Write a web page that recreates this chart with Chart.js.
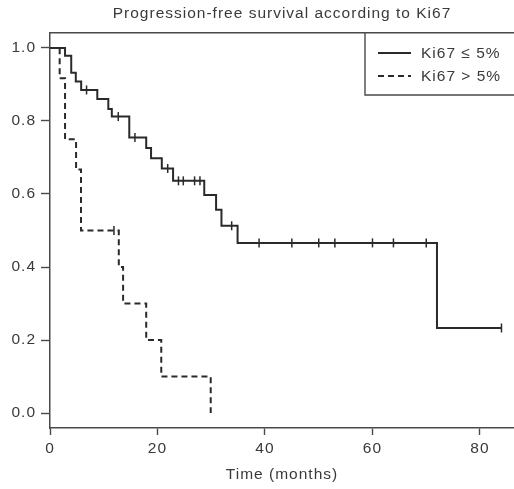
<!DOCTYPE html>
<html>
<head>
<meta charset="utf-8">
<script src="https://cdn.jsdelivr.net/npm/chart.js@4/dist/chart.umd.min.js"></script>
<style>
  html, body { margin: 0; padding: 0; background: #ffffff; overflow: hidden; }
  canvas { display: block; }
</style>
</head>
<body>
<canvas id="km" width="514" height="489"></canvas>
<script>
// Kaplan–Meier progression-free survival by Ki67 group
const chartTitle = 'Progression-free survival according to Ki67';
const xTitle = 'Time (months)';
const seriesNames = ['Ki67 \u2264 5%', 'Ki67 > 5%'];

// Ki67 <= 5%: event times (months) and survival after each step
const lowTimes = [0, 2.8, 3.95, 4.8, 5.8, 8.8, 10.85, 11.5, 14.75, 17.9, 18.8, 20.8, 22.9, 28.7, 30.9, 31.9, 34.9, 72.0, 84.0];
const lowSurv  = [1.0, 0.979, 0.932, 0.908, 0.885, 0.860, 0.833, 0.812, 0.755, 0.726, 0.698, 0.670, 0.636, 0.597, 0.557, 0.513, 0.466, 0.233, 0.233];
const lowCensored = [6.8, 12.7, 15.8, 21.9, 23.9, 24.8, 26.9, 27.9, 33.8, 38.9, 45.0, 50.0, 53.0, 60.0, 63.9, 70.0, 84.0];

// Ki67 > 5%
const highTimes = [0, 1.8, 2.8, 4.85, 5.77, 12.8, 13.6, 17.9, 20.7, 29.9];
const highSurv  = [1.0, 0.917, 0.75, 0.667, 0.5, 0.4, 0.3, 0.2, 0.1, 0.0];
const highCensored = [11.9];

// Axis ticks
const xTicks = [0, 20, 40, 60, 80];
const xTickLabels = ['0', '20', '40', '60', '80'];
const yTicks = [0, 0.2, 0.4, 0.6, 0.8, 1.0];
const yTickLabels = ['0.0', '0.2', '0.4', '0.6', '0.8', '1.0'];

const ink = '#2a2a2a';
const axisInk = '#4a4a4a';
const textInk = '#3a3a3a';
const fontFamily = '"Liberation Sans", Arial, Helvetica, sans-serif';
const fontSize = 15.5;
const tracking = '1px';

const X_MIN = 0, X_MAX = 86.33;
const Y_MIN = -0.041, Y_MAX = 1.041;

function toPoints(times, surv) {
  return times.map((t, i) => ({ x: t, y: surv[i] }));
}
// survival value of a step curve at time t (value holds until next event)
function survAt(times, surv, t) {
  let s = surv[0];
  for (let i = 0; i < times.length; i++) {
    if (times[i] <= t) s = surv[i];
  }
  return s;
}
function censorPoints(times, surv, cens) {
  return cens.map(t => ({ x: t, y: survAt(times, surv, t) }));
}

// Slightly wider letter spacing for all canvas text
const tracked = {
  id: 'tracked',
  beforeUpdate(chart) { chart.ctx.letterSpacing = tracking; },
  beforeDraw(chart) { chart.ctx.letterSpacing = tracking; }
};

// Boxed legend in the top-right corner of the plot area
const boxedLegend = {
  id: 'boxedLegend',
  afterDraw(chart) {
    const { ctx, chartArea } = chart;
    const left = chartArea.right - 149;
    const top = chartArea.top;
    const bottom = top + 62;
    ctx.save();
    ctx.strokeStyle = axisInk;
    ctx.lineWidth = 1.4;
    ctx.beginPath();
    ctx.moveTo(left, top);
    ctx.lineTo(left, bottom);
    ctx.lineTo(chartArea.right + 10, bottom);
    ctx.stroke();
    const rows = [top + 20, top + 43];
    chart.data.datasets.slice(0, 2).forEach((ds, i) => {
      const y = rows[i];
      ctx.strokeStyle = ds.borderColor;
      ctx.lineWidth = ds.borderWidth;
      ctx.setLineDash(ds.borderDash || []);
      ctx.beginPath();
      ctx.moveTo(left + 13, y);
      ctx.lineTo(left + 46, y);
      ctx.stroke();
      ctx.setLineDash([]);
      ctx.fillStyle = textInk;
      ctx.font = fontSize + 'px ' + fontFamily;
      ctx.letterSpacing = tracking;
      ctx.textBaseline = 'middle';
      ctx.textAlign = 'left';
      ctx.fillText(ds.label, left + 56, y + 1);
    });
    ctx.restore();
  }
};

const lineStyle = {
  showLine: true,
  stepped: 'before',
  borderColor: ink,
  borderWidth: 2,
  pointRadius: 0,
  pointHoverRadius: 0,
  fill: false
};
const censorStyle = {
  showLine: false,
  pointStyle: 'line',
  rotation: 90,
  pointRadius: 4.5,
  pointHoverRadius: 4.5,
  pointBorderWidth: 1.5,
  borderColor: ink,
  backgroundColor: ink
};

const tickFont = { family: fontFamily, size: fontSize };

new Chart(document.getElementById('km'), {
  type: 'scatter',
  data: {
    datasets: [
      Object.assign({ label: seriesNames[0], data: toPoints(lowTimes, lowSurv) }, lineStyle),
      Object.assign({ label: seriesNames[1], data: toPoints(highTimes, highSurv), borderDash: [6, 4] }, lineStyle),
      Object.assign({ label: 'censored low', data: censorPoints(lowTimes, lowSurv, lowCensored) }, censorStyle),
      Object.assign({ label: 'censored high', data: censorPoints(highTimes, highSurv, highCensored) }, censorStyle)
    ]
  },
  options: {
    responsive: false,
    animation: false,
    devicePixelRatio: 1,
    layout: { padding: 0, autoPadding: false },
    plugins: {
      legend: { display: false },
      tooltip: { enabled: false },
      title: { display: false }
    },
    scales: {
      x: {
        type: 'linear',
        position: 'bottom',
        min: X_MIN,
        max: X_MAX,
        afterBuildTicks: s => { s.ticks = xTicks.map(v => ({ value: v })); },
        afterFit: s => { s.height = 61; s.paddingLeft = 0; s.paddingRight = 0; },
        ticks: {
          color: textInk,
          font: tickFont,
          padding: 4,
          maxRotation: 0,
          callback: (v, i) => xTickLabels[i]
        },
        grid: { display: true, drawOnChartArea: false, drawTicks: true, tickLength: 7, tickWidth: 1.4, tickColor: axisInk },
        border: { display: true, color: axisInk, width: 1.5 },
        title: {
          display: true,
          text: xTitle,
          color: textInk,
          font: tickFont,
          padding: { top: 0, bottom: 5 }
        }
      },
      xTop: {
        type: 'linear',
        position: 'top',
        min: X_MIN,
        max: X_MAX,
        afterFit: s => { s.height = 33; s.paddingLeft = 0; s.paddingRight = 0; },
        ticks: { display: false },
        grid: { display: false },
        border: { display: true, color: axisInk, width: 1.5 },
        title: {
          display: true,
          text: chartTitle,
          color: textInk,
          font: tickFont,
          padding: { top: 4, bottom: 0 }
        }
      },
      y: {
        type: 'linear',
        min: Y_MIN,
        max: Y_MAX,
        afterBuildTicks: s => { s.ticks = yTicks.map(v => ({ value: v })); },
        afterFit: s => { s.width = 50; s.paddingTop = 0; s.paddingBottom = 0; },
        ticks: {
          color: textInk,
          font: tickFont,
          padding: 5,
          callback: (v, i) => yTickLabels[i]
        },
        grid: { display: true, drawOnChartArea: false, drawTicks: true, tickLength: 9, tickWidth: 1.4, tickColor: axisInk },
        border: { display: true, color: axisInk, width: 1.5 }
      }
    }
  },
  plugins: [tracked, boxedLegend]
});
</script>
</body>
</html>
